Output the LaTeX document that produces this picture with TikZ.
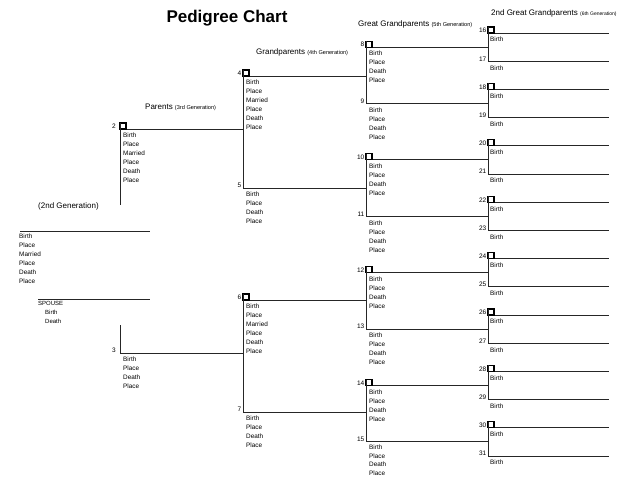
\documentclass[tikz,border=0pt]{standalone}
\usepackage{fontspec}
\setmainfont{Liberation Sans}
\tikzstyle{line}=[draw=black!85, line width=0.9pt]
\tikzstyle{box}=[draw=black, line width=1.1pt, minimum size=6pt, inner sep=0pt, outer sep=0pt, anchor=south west]
\tikzstyle{num}=[anchor=south east, inner sep=0pt, font=\fontsize{6.5}{7}\selectfont]
\tikzstyle{info}=[anchor=north west, inner sep=0pt, align=left, font=\fontsize{6.4}{9}\selectfont]
\tikzstyle{head}=[anchor=west, inner sep=0pt, font=\fontsize{8}{9}\selectfont]
\newcommand{\gen}[2][5.6]{{\fontsize{#1}{6}\selectfont(#2 Generation)}}
\newcommand{\longinfo}{Birth\\Place\\Married\\Place\\Death\\Place}
\newcommand{\shortinfo}{Birth\\Place\\Death\\Place}

\begin{document}
\begin{tikzpicture}[x=1pt,y=-1pt]
    \useasboundingbox (0,0) rectangle (619,477);
    \clip (0,0) rectangle (619,477);

    \node [font=\fontsize{17}{20}\selectfont\bfseries] (title) at (227,18) {Pedigree Chart};
    \node [head] (h2) at (38,206) {(2nd Generation)};
    \node [head] (h3) at (145,107) {Parents \gen{3rd}};
    \node [head] (h4) at (256,52) {Grandparents \gen{4th}};
    \node [head] (h5) at (358,24) {Great Grandparents \gen{5th}};
    \node [head] (h6) at (491,13) {2nd Great Grandparents \gen[5]{6th}};

    \coordinate (p1) at (20,231);
    \coordinate (e1) at (150,231);
    \coordinate (s1) at (38,299);
    \coordinate (se) at (150,299);
    \draw [line] (p1) -- (e1);
    \draw [line] (s1) -- (se);
    \node [info] (i1) at ([xshift=-1pt,yshift=-3pt]p1) {\longinfo};
    \node [info, font=\fontsize{6}{9}\selectfont] (is) at ([yshift=-2pt]s1) {SPOUSE\\\hspace*{7pt}Birth\\\hspace*{7pt}Death};

    \coordinate (p2) at (120,129);
    \coordinate (p3) at (120,353);
    \coordinate (t2) at (120,205);
    \coordinate (t3) at (120,325);
    \foreach \k/\y in {4/76,5/188,6/300,7/412}
        \coordinate (p\k) at (243,\y);
    \foreach \k in {8,...,15} {
        \pgfmathsetmacro\y{47.1+56.4*(\k-8)}
        \coordinate (p\k) at (366,\y);
    }
    \foreach \k in {16,...,31} {
        \pgfmathsetmacro\y{33+28.2*(\k-16)}
        \coordinate (p\k) at (488,\y);
        \coordinate (e\k) at (609,\y);
        \draw [line] (p\k) -- (e\k);
        \node [info] (i\k) at ([xshift=2pt,yshift=-4pt]p\k) {Birth};
    }

    \foreach \k in {2,...,15} {
        \pgfmathtruncatemacro\j{2*\k}
        \draw [line] (p\k) -- (p\j |- p\k);
    }
    \foreach \k in {2,4,...,30}
        \node [box] (b\k) at (p\k) {};
    \foreach \k in {4,6,...,30} {
        \pgfmathtruncatemacro\j{\k+1}
        \draw [line] (b\k.north west) -- (p\j);
    }
    \draw [line] (b2.north west) -- (t2);
    \draw [line] (t3) -- (p3);

    \node [num] (n2) at ([xshift=-4pt]p2) {2};
    \node [num] (n3) at ([xshift=-4pt]p3) {3};
    \foreach \k in {4,...,31}
        \node [num] (n\k) at ([xshift=-1.5pt]p\k) {\k};

    \foreach \k in {2,4,6}
        \node [info] (i\k) at ([xshift=3pt,yshift=-4pt]p\k) {\longinfo};
    \foreach \k in {3,5,7,8,9,...,14}
        \node [info] (i\k) at ([xshift=3pt,yshift=-4pt]p\k) {\shortinfo};
    \node [info, font=\fontsize{6.4}{8.5}\selectfont] (i15) at ([xshift=3pt,yshift=-3pt]p15) {\shortinfo};
\end{tikzpicture}
\end{document}
